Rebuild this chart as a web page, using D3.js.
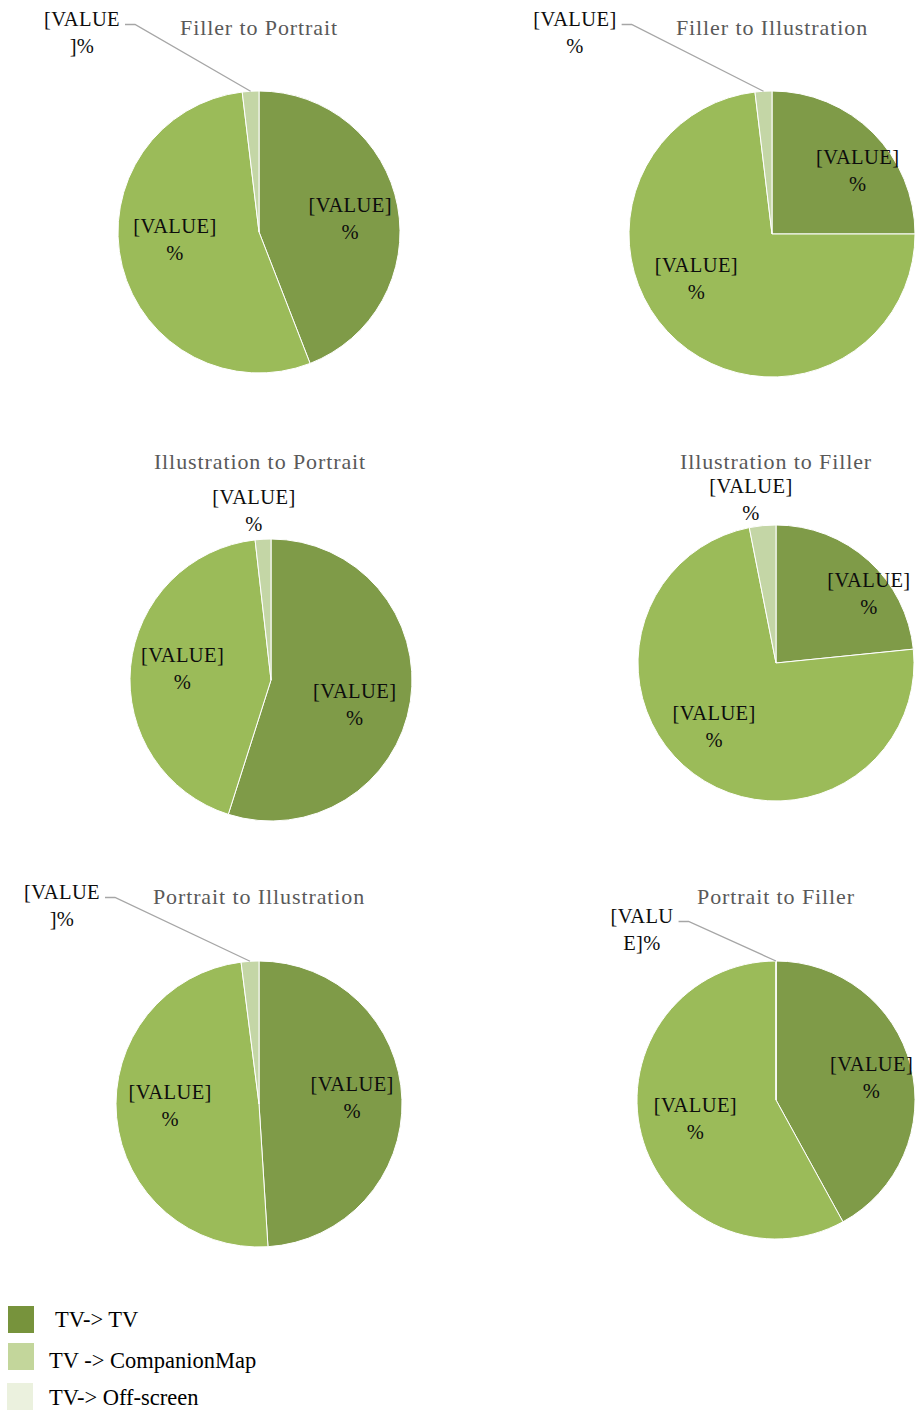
<!DOCTYPE html>
<html>
<head>
<meta charset="utf-8">
<script src="https://cdn.jsdelivr.net/npm/d3@7"></script>
<style>
  body { margin: 0; background: #fff; }
  svg text { font-family: "Liberation Serif", "Times New Roman", serif; }
</style>
</head>
<body>
<svg id="canvas" width="922" height="1412"></svg>
<script>
// chart data
let chartTitles = ["Filler to Portrait", "Filler to Illustration", "Illustration to Portrait",
                   "Illustration to Filler", "Portrait to Illustration", "Portrait to Filler"];
let seriesNames = ["TV-> TV", "TV -> CompanionMap", "TV-> Off-screen"];
let tvToTv        = [44.1, 25.0, 54.9, 23.4, 49.0, 42.0];
let tvToCompanion = [54.0, 73.1, 43.3, 73.5, 49.0, 58.0];
let tvToOffscreen = [1.9, 1.9, 1.8, 3.1, 2.0, 0.0];
let labelText = "[VALUE]%";

// layout of the six small charts
let layout = [
    {cx: 259, cy: 232, r: 141, tx: 259, ty: 35,  nudge: [[-3, 4], [9, -16]],  call: [-177, -200], split: 6, leader: true},
    {cx: 772, cy: 234, r: 143, tx: 772, ty: 35,  nudge: [[17, 5], [-11, -28]], call: [-197, -202], split: 7, leader: true},
    {cx: 271, cy: 680, r: 141, tx: 260, ty: 469, nudge: [[-11, 10], [7, -2]],  call: [-17, -170],  split: 7, leader: false},
    {cx: 776, cy: 663, r: 138, tx: 776, ty: 469, nudge: [[30, 0], [-6, -12]],  call: [-25, -164],  split: 7, leader: false},
    {cx: 259, cy: 1104, r: 143, tx: 259, ty: 904, nudge: [[-4, -4], [8, -8]], call: [-197, -199], split: 6, leader: true},
    {cx: 776, cy: 1100, r: 139, tx: 776, ty: 904, nudge: [[4, 1], [11, -5]],  call: [-134, -171], split: 5, leader: true}
];

let sliceColors = ["#7f9b48", "#9bbb59", "#c4d6a6"];
let legendColors = ["#77933c", "#c3d69b", "#ebf1de"];

let canvas = d3.select('#canvas');

let pie = d3.pie().sort(null).value((d) => d);

let drawChart = (i) => {
    let lay = layout[i];
    let values = [tvToTv[i], tvToCompanion[i], tvToOffscreen[i]];
    let slices = pie(values);

    let g = canvas.append('g')
        .attr('transform', 'translate(' + lay.cx + ',' + lay.cy + ')');

    let arc = d3.arc().innerRadius(0).outerRadius(lay.r);
    let labelArc = d3.arc().innerRadius(lay.r * 0.68).outerRadius(lay.r * 0.68);
    let edgeArc = d3.arc().innerRadius(lay.r).outerRadius(lay.r);

    g.selectAll('path')
        .data(slices)
        .enter()
        .append('path')
        .attr('d', arc)
        .attr('fill', (d, k) => sliceColors[k])
        .attr('stroke', '#ffffff')
        .attr('stroke-width', 1);

    // title
    canvas.append('text')
        .attr('x', lay.tx)
        .attr('y', lay.ty)
        .attr('text-anchor', 'middle')
        .attr('font-size', 22)
        .attr('letter-spacing', 0.9)
        .attr('fill', '#595959')
        .text(chartTitles[i]);

    // labels inside the two big slices
    slices.slice(0, 2).forEach((s, k) => {
        let c = labelArc.centroid(s);
        let x = c[0] + lay.nudge[k][0];
        let y = c[1] + lay.nudge[k][1];
        let t = g.append('text')
            .attr('text-anchor', 'middle')
            .attr('font-size', 20.5)
            .attr('letter-spacing', 0.4)
            .attr('fill', '#0d0d0d');
        t.append('tspan').attr('x', x).attr('y', y - 13.5).attr('dy', '0.35em').text(labelText.slice(0, 7));
        t.append('tspan').attr('x', x).attr('y', y + 13.5).attr('dy', '0.35em').text(labelText.slice(7));
    });

    // callout label for the small slice
    let small = slices[2];
    let lx = lay.call[0];
    let ly = lay.call[1];
    let t = g.append('text')
        .attr('text-anchor', 'middle')
        .attr('font-size', 20.5)
        .attr('letter-spacing', 0.4)
        .attr('fill', '#0d0d0d');
    let first = t.append('tspan').attr('x', lx).attr('y', ly - 13.5).attr('dy', '0.35em')
        .text(labelText.slice(0, lay.split));
    t.append('tspan').attr('x', lx).attr('y', ly + 13.5).attr('dy', '0.35em')
        .text(labelText.slice(lay.split));

    if (lay.leader) {
        let w = first.node().getComputedTextLength();
        let anchor = edgeArc.centroid(small);
        let x0 = lx + w / 2 + 5;
        let y0 = ly - 13.5 + 6;
        g.append('polyline')
            .attr('points', [[x0, y0], [x0 + 10, y0], anchor].map((p) => p.join(',')).join(' '))
            .attr('fill', 'none')
            .attr('stroke', '#a6a6a6')
            .attr('stroke-width', 1.3);
    }
};

chartTitles.forEach((name, i) => drawChart(i));

// legend at the bottom
let legendPos = [{x: 8, y: 1306, tx: 55, ty: 1327}, {x: 8, y: 1343, tx: 49, ty: 1368}, {x: 7, y: 1383, tx: 49, ty: 1405}];

let legend = canvas.selectAll('.legend')
    .data(seriesNames)
    .enter()
    .append('g')
    .attr('class', 'legend');

legend.append('rect')
    .attr('x', (d, k) => legendPos[k].x)
    .attr('y', (d, k) => legendPos[k].y)
    .attr('width', 26)
    .attr('height', 27)
    .attr('fill', (d, k) => legendColors[k]);

legend.append('text')
    .attr('x', (d, k) => legendPos[k].tx)
    .attr('y', (d, k) => legendPos[k].ty)
    .attr('font-size', 22.5)
    .attr('fill', '#000')
    .text((d) => d);
</script>
</body>
</html>
